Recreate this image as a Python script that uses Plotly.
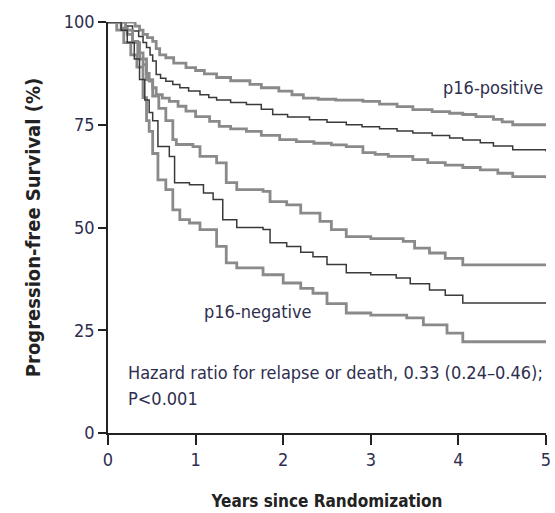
import plotly.graph_objects as go

# Kaplan-Meier style step data (years, % progression-free)
pos_upper_x = [0, 0.31, 0.36, 0.40, 0.45, 0.51, 0.55, 0.59, 0.66, 0.75, 0.89, 1.0, 1.1, 1.24, 1.4, 1.62, 1.75, 1.95, 2.1, 2.23, 2.4, 2.6, 2.91, 3.1, 3.3, 3.48, 3.7, 3.9, 4.05, 4.2, 4.4, 4.5, 4.62, 5.0]
pos_upper_y = [100, 99, 98, 97, 96.2, 95.3, 93.5, 92, 91.3, 90, 88.9, 88.2, 87.4, 86.5, 85.7, 84.8, 84, 83.2, 82.3, 81.5, 81.2, 81, 80.7, 80, 79.4, 78.7, 78.2, 77.8, 77.5, 77, 76.3, 75.7, 75, 75]

pos_est_x = [0, 0.2, 0.28, 0.35, 0.40, 0.44, 0.48, 0.51, 0.55, 0.60, 0.66, 0.74, 0.82, 0.92, 1.05, 1.15, 1.24, 1.40, 1.58, 1.75, 1.88, 2.05, 2.3, 2.5, 2.72, 2.9, 3.1, 3.3, 3.48, 3.7, 3.9, 4.05, 4.25, 4.4, 4.62, 5.0]
pos_est_y = [100, 99, 97.8, 96.5, 95, 93.8, 92, 90.5, 87.2, 86.3, 85.6, 84.8, 84, 83.2, 82.3, 81.6, 81, 80.4, 79.9, 78.8, 77.5, 76.9, 76.2, 75.6, 75, 74.5, 74, 73.5, 73, 72.4, 71.8, 71.3, 70.6, 69.8, 68.9, 68.5]

pos_lower_x = [0, 0.15, 0.22, 0.28, 0.34, 0.40, 0.44, 0.47, 0.51, 0.55, 0.62, 0.70, 0.80, 0.89, 1.0, 1.16, 1.27, 1.40, 1.58, 1.75, 1.96, 2.15, 2.35, 2.55, 2.72, 2.91, 3.05, 3.20, 3.48, 3.65, 3.85, 4.05, 4.25, 4.45, 4.62, 5.0]
pos_lower_y = [100, 98.5, 97, 95.3, 92.5, 89.6, 87.5, 85.6, 84, 82.3, 81.5, 80.7, 79.5, 78.3, 77, 75.8, 74.6, 74, 73.4, 72.4, 71.4, 70.9, 70.5, 70.1, 69.7, 68.2, 67.8, 67.3, 66.5, 65.8, 65.2, 64.6, 64, 63.2, 62.4, 62]

neg_upper_x = [0, 0.2, 0.28, 0.36, 0.44, 0.51, 0.58, 0.66, 0.74, 0.78, 0.97, 1.05, 1.24, 1.35, 1.47, 1.77, 1.85, 2.04, 2.2, 2.42, 2.55, 2.72, 3.0, 3.37, 3.50, 3.67, 3.85, 4.05, 5.0]
neg_upper_y = [100, 98, 95, 91, 86, 82, 79, 76, 71.4, 70.2, 69.7, 67.3, 65.7, 60.9, 59.2, 58.8, 56.3, 55.5, 53.5, 51.5, 49.5, 47.8, 47.3, 46.6, 45, 43.8, 42.5, 40.9, 40.9]

neg_est_x = [0, 0.15, 0.22, 0.30, 0.36, 0.42, 0.47, 0.51, 0.57, 0.70, 0.76, 0.93, 1.09, 1.20, 1.31, 1.47, 1.77, 1.85, 2.04, 2.2, 2.34, 2.5, 2.72, 3.0, 3.29, 3.45, 3.67, 3.85, 4.05, 5.0]
neg_est_y = [100, 98, 95, 91, 86, 81, 78, 76, 69.7, 67.3, 60.9, 60.4, 58.4, 56.8, 51.9, 50, 49.5, 46.3, 45.4, 44, 42.9, 41, 39, 38.5, 37.7, 36.3, 34.8, 33.5, 31.6, 31.6]

neg_lower_x = [0, 0.1, 0.18, 0.26, 0.33, 0.40, 0.44, 0.47, 0.51, 0.57, 0.66, 0.74, 0.82, 0.93, 1.05, 1.24, 1.35, 1.47, 1.77, 2.0, 2.2, 2.34, 2.5, 2.72, 3.0, 3.41, 3.6, 3.87, 4.05, 5.0]
neg_lower_y = [100, 98, 95, 92, 89, 81.6, 76, 73.4, 68, 61.6, 59.2, 54.3, 51.9, 51.1, 49.5, 45.4, 41.4, 40.2, 38.5, 36.5, 35.2, 34, 31.5, 29.2, 28.7, 28, 26.3, 24.3, 22.2, 22.2]

x_ticks = [0, 1, 2, 3, 4, 5]
y_ticks = [0, 25, 50, 75, 100]

FONT = "Liberation Sans Narrow, DejaVu Sans Condensed, Arial Narrow, sans-serif"
TXT = "#2e2e4e"
GRAY = "#8a8a8a"
DARK = "#3a3a3a"

fig = go.Figure()
series = [
    (pos_upper_x, pos_upper_y, GRAY, 2.8),
    (pos_lower_x, pos_lower_y, GRAY, 2.8),
    (pos_est_x, pos_est_y, DARK, 1.5),
    (neg_upper_x, neg_upper_y, GRAY, 2.8),
    (neg_lower_x, neg_lower_y, GRAY, 2.8),
    (neg_est_x, neg_est_y, DARK, 1.5),
]
for xs, ys, col, w in series:
    fig.add_trace(go.Scatter(x=xs, y=ys, mode="lines", line=dict(shape="hv", color=col, width=w),
                             showlegend=False, hoverinfo="skip"))

fig.add_annotation(x=4.39, y=84, text="p16-positive", showarrow=False,
                   font=dict(family=FONT, size=18, color=TXT), xanchor="center", yanchor="middle")
fig.add_annotation(x=1.71, y=29.5, text="p16-negative", showarrow=False,
                   font=dict(family=FONT, size=18, color=TXT), xanchor="center", yanchor="middle")
fig.add_annotation(x=0.21, y=14.6, text="Hazard ratio for relapse or death, 0.33 (0.24\u20130.46);",
                   showarrow=False, font=dict(family=FONT, size=18, color=TXT), xanchor="left", yanchor="middle")
fig.add_annotation(x=0.21, y=8.4, text="P<0.001", showarrow=False,
                   font=dict(family=FONT, size=18, color=TXT), xanchor="left", yanchor="middle")

fig.update_layout(
    width=555, height=513,
    margin=dict(l=108, r=9, t=22, b=80),
    paper_bgcolor="white", plot_bgcolor="white",
    font=dict(family=FONT, size=18, color=TXT),
)
fig.update_xaxes(range=[0, 5], tickvals=x_ticks, ticktext=[str(v) for v in x_ticks],
                 automargin=False,
                 showgrid=False, zeroline=False, showline=True, linecolor="#222", linewidth=1.6,
                 ticks="outside", ticklen=10, tickwidth=1.6, tickcolor="#222",
                 tickfont=dict(family=FONT, size=18, color=TXT),
                 title=dict(text="<b>Years since Randomization</b>", font=dict(family=FONT, size=17, color="#222"), standoff=26))
fig.update_yaxes(range=[0, 100], tickvals=y_ticks, ticktext=[str(v) for v in y_ticks],
                 automargin=False,
                 showgrid=False, zeroline=False, showline=True, linecolor="#222", linewidth=1.6,
                 ticks="outside", ticklen=8, tickwidth=1.6, tickcolor="#222",
                 tickfont=dict(family=FONT, size=18, color=TXT),
                 title=dict(text="<b>Progression-free Survival (%)</b>", font=dict(family=FONT, size=20, color="#222"), standoff=18))

fig.write_html("out.html")
